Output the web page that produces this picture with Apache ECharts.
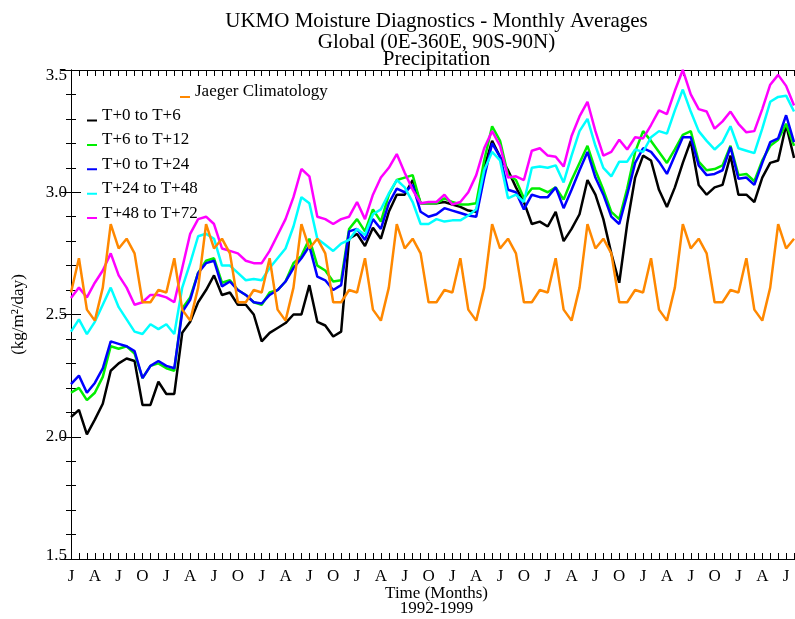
<!DOCTYPE html>
<html><head><meta charset="utf-8">
<script src="https://cdn.jsdelivr.net/npm/echarts@6/dist/echarts.min.js"></script>
<style>html,body{margin:0;padding:0;background:#fff}#c{width:795px;height:619px}</style>
</head><body><div id="c"></div>
<script>
// ---- data ----
const monthLetters = ['J','F','M','A','M','J','J','A','S','O','N','D'];
const titleLines = ['UKMO Moisture Diagnostics - Monthly Averages','Global (0E-360E, 90S-90N)','Precipitation'];
const seriesNames = ['Jaeger Climatology','T+0 to T+6','T+6 to T+12','T+0 to T+24','T+24 to T+48','T+48 to T+72'];
const seriesColors = ['#ff8800','#000000','#00ee00','#0000ff','#00ffff','#ff00ff'];

const jaeger = [
 2.59,2.73,2.52,2.475,2.61,2.87,2.77,2.81,2.75,2.55,2.55,2.60,
 2.59,2.73,2.52,2.475,2.61,2.87,2.77,2.81,2.75,2.55,2.55,2.60,
 2.59,2.73,2.52,2.475,2.61,2.87,2.77,2.81,2.75,2.55,2.55,2.60,
 2.59,2.73,2.52,2.475,2.61,2.87,2.77,2.81,2.75,2.55,2.55,2.60,
 2.59,2.73,2.52,2.475,2.61,2.87,2.77,2.81,2.75,2.55,2.55,2.60,
 2.59,2.73,2.52,2.475,2.61,2.87,2.77,2.81,2.75,2.55,2.55,2.60,
 2.59,2.73,2.52,2.475,2.61,2.87,2.77,2.81,2.75,2.55,2.55,2.60,
 2.59,2.73,2.52,2.475,2.61,2.87,2.77,2.81];

const t0to6 = [
 2.08,2.11,2.01,2.07,2.135,2.27,2.30,2.32,2.31,2.13,2.13,2.225,
 2.175,2.175,2.425,2.47,2.55,2.60,2.66,2.58,2.59,2.54,2.54,2.50,
 2.39,2.425,2.445,2.465,2.50,2.50,2.62,2.47,2.455,2.41,2.43,2.81,
 2.83,2.78,2.855,2.81,2.92,2.99,2.99,3.05,2.955,2.955,2.955,2.96,
 2.95,2.94,2.925,2.92,3.10,3.21,3.145,3.09,3.02,2.96,2.87,2.88,
 2.86,2.92,2.80,2.85,2.91,3.05,2.99,2.89,2.75,2.63,2.87,3.06,
 3.15,3.13,3.01,2.94,3.02,3.12,3.21,3.03,2.99,3.02,3.03,3.15,
 2.99,2.99,2.96,3.06,3.12,3.13,3.275,3.14];

const t6to12 = [
 2.18,2.20,2.15,2.18,2.245,2.37,2.36,2.37,2.34,2.24,2.29,2.30,
 2.28,2.27,2.525,2.57,2.67,2.72,2.73,2.63,2.64,2.60,2.58,2.55,
 2.54,2.59,2.60,2.635,2.71,2.74,2.81,2.70,2.68,2.635,2.64,2.85,
 2.89,2.84,2.93,2.88,2.99,3.05,3.06,3.07,2.955,2.955,2.955,2.975,
 2.96,2.95,2.95,2.955,3.13,3.27,3.21,3.07,3.05,2.975,3.015,3.015,
 3.00,3.02,2.97,3.05,3.12,3.19,3.09,3.01,2.92,2.89,3.015,3.165,
 3.25,3.21,3.165,3.12,3.175,3.235,3.25,3.125,3.09,3.095,3.11,3.19,
 3.07,3.075,3.045,3.13,3.19,3.215,3.28,3.19];

const t0to24 = [
 2.215,2.25,2.18,2.22,2.28,2.39,2.38,2.37,2.35,2.24,2.29,2.31,
 2.29,2.28,2.51,2.56,2.67,2.71,2.72,2.615,2.635,2.60,2.58,2.55,
 2.545,2.58,2.60,2.635,2.69,2.73,2.78,2.655,2.64,2.60,2.62,2.84,
 2.85,2.805,2.89,2.85,2.955,3.015,3.00,3.03,2.92,2.90,2.91,2.935,
 2.925,2.915,2.905,2.90,3.06,3.20,3.145,3.01,3.00,2.93,2.99,2.98,
 2.98,3.02,2.935,3.01,3.09,3.165,3.06,2.99,2.90,2.87,2.99,3.12,
 3.18,3.165,3.125,3.075,3.15,3.225,3.225,3.11,3.07,3.075,3.09,3.185,
 3.055,3.06,3.03,3.12,3.205,3.22,3.315,3.205];

const t24to48 = [
 2.43,2.48,2.42,2.47,2.54,2.61,2.53,2.48,2.43,2.42,2.46,2.44,
 2.46,2.42,2.61,2.71,2.82,2.83,2.81,2.70,2.70,2.67,2.64,2.645,
 2.64,2.69,2.73,2.77,2.86,2.98,2.955,2.81,2.785,2.76,2.79,2.805,
 2.85,2.825,2.91,2.93,2.995,3.05,3.02,2.96,2.87,2.87,2.89,2.88,
 2.885,2.885,2.905,2.93,3.09,3.165,3.13,2.975,2.99,2.96,3.10,3.105,
 3.10,3.11,3.04,3.15,3.25,3.30,3.19,3.10,3.065,3.125,3.125,3.175,
 3.165,3.225,3.25,3.24,3.335,3.42,3.33,3.25,3.21,3.175,3.205,3.27,
 3.18,3.17,3.16,3.26,3.37,3.39,3.395,3.33];

const t48to72 = [
 2.567,2.61,2.57,2.63,2.68,2.75,2.66,2.61,2.54,2.55,2.58,2.58,
 2.57,2.55,2.69,2.83,2.89,2.90,2.87,2.77,2.76,2.75,2.72,2.71,
 2.71,2.76,2.825,2.89,2.98,3.095,3.065,2.90,2.89,2.87,2.89,2.90,
 2.96,2.89,2.99,3.06,3.10,3.156,3.08,3.01,2.955,2.96,2.96,2.99,
 2.95,2.96,3.00,3.07,3.18,3.25,3.19,3.06,3.065,3.05,3.17,3.18,
 3.15,3.145,3.105,3.23,3.31,3.37,3.25,3.15,3.165,3.215,3.175,3.225,
 3.22,3.275,3.335,3.32,3.415,3.50,3.40,3.34,3.33,3.26,3.29,3.33,
 3.28,3.245,3.25,3.34,3.44,3.48,3.435,3.355];

const seriesValues = [jaeger, t0to6, t6to12, t0to24, t24to48, t48to72];

// ---- chart ----
const FONT = 'Liberation Serif';
const chart = echarts.init(document.getElementById('c'), null, {renderer:'canvas'});
const legendIcon = 'path://M0,0L0.01,0L0,0.01Z M0,10L10,10L10,12L0,12Z';
const txt = {fontFamily: FONT, fontSize: 17, color: '#000'};

const xBase = {
  type: 'value', min: 0, max: 92, interval: 1,
  axisLine: {show: true, lineStyle: {color: '#000', width: 1}},
  axisTick: {show: true, inside: true, length: 6, lineStyle: {color: '#000'}},
  splitLine: {show: false}
};
const yBase = {
  type: 'value', min: 1.5, max: 3.5, interval: 0.5,
  axisLine: {show: true, lineStyle: {color: '#000', width: 1}},
  axisTick: {show: true, inside: true, length: 10, lineStyle: {color: '#000'}},
  minorTick: {show: true, splitNumber: 5, length: 5, lineStyle: {color: '#000'}},
  splitLine: {show: false}, minorSplitLine: {show: false}
};

// draw order: forecasts then climatology on top
const order = [1,2,3,4,5,0];

chart.setOption({
  animation: false,
  backgroundColor: '#fff',
  title: titleLines.map((t, k) => ({
    text: t, left: 436.5, top: [10.5, 31.5, 48.5][k], padding: 0,
    textAlign: 'center', textVerticalAlign: 'top',
    textStyle: {fontFamily: FONT, fontSize: 21, fontWeight: 'normal', color: '#000'}
  })),
  legend: [
    {data: [seriesNames[0]], left: 180, top: 83.5, orient: 'vertical', padding: 0,
     itemWidth: 10, itemHeight: 12, icon: legendIcon, selectedMode: false,
     itemStyle: {borderWidth: 0}, textStyle: txt},
    {data: seriesNames.slice(1), left: 87, top: 107, orient: 'vertical', padding: 0,
     itemGap: 7.4, itemWidth: 10, itemHeight: 12, icon: legendIcon, selectedMode: false,
     itemStyle: {borderWidth: 0}, textStyle: txt}
  ],
  grid: {left: 71, top: 70, width: 731, height: 489, containLabel: false, outerBoundsMode: 'none'},
  xAxis: [
    Object.assign({}, xBase, {
      position: 'bottom',
      axisLabel: {show: true, margin: 9.5, fontFamily: FONT, fontSize: 17, color: '#000',
        formatter: v => (v % 3 === 0 && v < 92) ? monthLetters[v % 12] : ''},
      name: 'Time (Months)\n1992-1999', nameLocation: 'middle', nameGap: 27, nameMoveOverlap: false,
      nameTextStyle: {fontFamily: FONT, fontSize: 17, color: '#000', lineHeight: 15}
    }),
    Object.assign({}, xBase, {position: 'top', axisLabel: {show: false}})
  ],
  yAxis: [
    Object.assign({}, yBase, {
      position: 'left',
      axisLabel: {show: true, margin: 4, fontFamily: FONT, fontSize: 17, color: '#000',
        formatter: v => {
          const s = v.toFixed(1);
          if (Math.abs(v - 3.5) < 1e-9) return '{top|' + s + '}';
          if (Math.abs(v - 1.5) < 1e-9) return '{bot|' + s + '}';
          return s;
        },
        rich: {
          top: {fontFamily: FONT, fontSize: 17, color: '#000', padding: [12, 0, 0, 0]},
          bot: {fontFamily: FONT, fontSize: 17, color: '#000', padding: [0, 0, 6, 0]}
        }},
      name: '(kg/m\u00b2/day)', nameLocation: 'middle', nameRotate: 90, nameGap: 44, nameMoveOverlap: false,
      nameTextStyle: {fontFamily: FONT, fontSize: 17, color: '#000'}
    }),
    Object.assign({}, yBase, {position: 'right', axisLabel: {show: false}})
  ],
  series: order.map(k => ({
    name: seriesNames[k], type: 'line', xAxisIndex: 0, yAxisIndex: 0,
    data: seriesValues[k].map((v, i) => [i, v]),
    showSymbol: false, symbol: 'none', color: seriesColors[k],
    lineStyle: {color: seriesColors[k], width: 2.5},
    itemStyle: {color: seriesColors[k]},
    clip: true, silent: true
  }))
});
</script></body></html>
